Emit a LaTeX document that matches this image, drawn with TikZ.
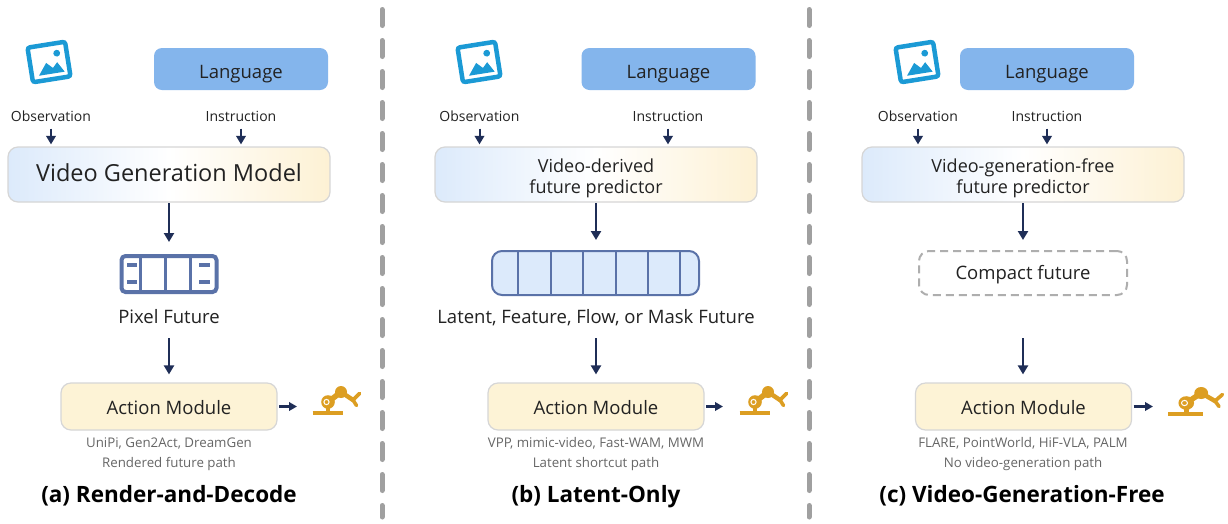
\documentclass[tikz,border=0pt]{standalone}
\usepackage{fontspec}
\setmainfont{Open Sans}
\usetikzlibrary{arrows.meta}
\definecolor{langblue}{HTML}{84B5EC}
\definecolor{iconblue}{HTML}{1B9AD5}
\definecolor{navy}{HTML}{1F2E57}
\definecolor{filmblue}{HTML}{5A72A8}
\definecolor{stripfill}{HTML}{DCEAFB}
\definecolor{gradl}{HTML}{DCEAFB}
\definecolor{gradr}{HTML}{FDF1D4}
\definecolor{actfill}{HTML}{FDF3D6}
\definecolor{boxgray}{HTML}{D6D6D6}
\definecolor{refgray}{HTML}{666666}
\definecolor{sepgray}{HTML}{A0A0A0}
\definecolor{dashgray}{HTML}{AEAEAE}
\definecolor{gold}{HTML}{DC9E22}
\definecolor{txt}{HTML}{222222}
\tikzset{
  lang/.style={fill=langblue, rounded corners=8pt, minimum width=174pt, minimum height=42pt, inner sep=0pt,
    text height=20pt, text depth=2pt, text=txt, font=\fontsize{18.5}{22}\selectfont},
  pred/.style={draw=boxgray, line width=1.2pt, rounded corners=10pt, left color=gradl, right color=gradr,
    middle color=white, minimum width=322pt, minimum height=55pt, inner sep=0pt, text=txt},
  predtxt/.style={align=center, inner sep=0pt, text=txt, font=\fontsize{18}{21}\selectfont},
  actbox/.style={draw=boxgray, line width=1.2pt, fill=actfill, rounded corners=10pt, minimum width=216pt,
    minimum height=47pt, inner sep=0pt, text height=17pt, text depth=2pt, text=txt, font=\fontsize{18.5}{22}\selectfont},
  lbl/.style={anchor=base, inner sep=0pt, text height=10pt, text depth=3pt, text=txt, font=\fontsize{14}{16}\selectfont},
  futlbl/.style={anchor=base, inner sep=0pt, text height=13pt, text depth=4pt, text=txt, font=\fontsize{18.5}{22}\selectfont},
  refs/.style={anchor=base, inner sep=0pt, text=refgray, font=\fontsize{13.3}{15}\selectfont},
  ttl/.style={anchor=base, inner sep=0pt, text=black, font=\fontsize{22.5}{26}\selectfont\bfseries},
  arr/.style={draw=navy, line width=2.3pt, -{Triangle[length=9pt,width=10pt]}},
  arrobs/.style={draw=navy, line width=2pt, -{Triangle[length=8.5pt,width=9.5pt]}},
  arrs/.style={draw=navy, line width=2.3pt, -{Triangle[length=8pt,width=8.5pt]}},
  sepline/.style={draw=sepgray, line width=5pt, line cap=round, dash pattern=on 16pt off 15pt},
  imgicon/.pic={
    \begin{scope}[rotate=9]
      \draw[iconblue, line width=4.5pt, rounded corners=2.5pt] (-19,-17.5) rectangle (19,17.5);
      \fill[iconblue] (-12,12) -- (-3,0.5) -- (3,6.5) -- (8,1.5) -- (14,12) -- cycle;
      \fill[iconblue] (9,-7.5) circle (3.4);
    \end{scope}},
  robot/.pic={
    \draw[gold, line width=4pt] (-0.5,0) -- (29.5,0);
    \draw[gold, line width=4.5pt] (15,-11) -- (15,0);
    \draw[gold, line width=5.5pt, line cap=round] (15,-11) -- (28,-21);
    \draw[gold, line width=4.5pt, line cap=round] (28,-21) -- (40,-13);
    \draw[gold, line width=3.6pt, line cap=round] (40,-13) -- (46.5,-19.5);
    \draw[gold, line width=3.6pt, line cap=round] (40,-13) -- (43.5,-7.5);
    \fill[gold] (15,-11) circle (6.8);
    \fill[gold] (28,-21) circle (6);
    \draw[white, line width=1pt] (13.5,-11) circle (2.6);
  },
}
\begin{document}
\begin{tikzpicture}[x=1pt,y=-1pt]
\useasboundingbox (0,0) rectangle (1228,523);
\fill[white] (0,0) rectangle (1228,523);

% separators
\draw[sepline] (382,9.5) -- (382,517);
\draw[sepline] (809,9.5) -- (809,517);

% ================= (a) =================
\pic at (49,62) {imgicon};
\node[lang] (la) at (241,69) {Language};
\node[lbl] (oa) at (51,121) {Observation};
\node[lbl] (ia) at (241,121) {Instruction};
\node[pred, text height=19pt, text depth=4.6pt, font=\fontsize{23.5}{27}\selectfont] (pa) at (169,174.5) {Video Generation Model};
\draw[arrobs, shorten <=4.5pt, shorten >=2pt] (oa.south) -- (oa.south |- pa.north);
\draw[arrobs, shorten <=4.5pt, shorten >=2pt] (ia.south) -- (ia.south |- pa.north);
% film strip
\node[draw=filmblue, line width=4pt, rounded corners=4pt, fill=white, minimum width=95pt, minimum height=36pt, inner sep=0pt] (xa) at (169,274) {};
\draw[filmblue, line width=3pt] (140.5,256) -- (140.5,292);
\draw[filmblue, line width=3pt] (165,256) -- (165,292);
\draw[filmblue, line width=3pt] (190,256) -- (190,292);
\draw[filmblue, line width=3.5pt] (127,265) -- (137,265);
\draw[filmblue, line width=3.5pt] (127,282) -- (137,282);
\draw[filmblue, line width=3.5pt] (199,265) -- (210,265);
\draw[filmblue, line width=3.5pt] (199,282) -- (210,282);
\draw[arr, shorten <=0.5pt, shorten >=12pt] (pa.south) -- (pa.south |- xa.north);
\node[futlbl] (fa) at (169,323) {Pixel Future};
\node[actbox] (aa) at (169,406.5) {Action Module};
\draw[arr, shorten <=11pt, shorten >=8pt] (fa.south) -- (fa.south |- aa.north);
\coordinate (ra) at (297,406.5);
\draw[arrs, shorten <=1.5pt] (aa.east) -- (ra);
\pic at (313,413) {robot};
\node[refs] (ca) at (169,447.5) {UniPi, Gen2Act, DreamGen};
\node[refs] (da) at (169,467.5) {Rendered future path};
\node[ttl] (ta) at (169,502) {(a) Render-and-Decode};

% ================= (b) =================
\pic at (479,62) {imgicon};
\node[lang] (lb) at (668.5,69) {Language};
\node[lbl] (ob) at (479.5,121) {Observation};
\node[lbl] (ib) at (668,121) {Instruction};
\node[pred] (pb) at (596,174.5) {};
\node[predtxt] (pbt) at (596,178) {Video-derived\\future predictor};
\draw[arrobs, shorten <=4.5pt, shorten >=2pt] (ob.south) -- (ob.south |- pb.north);
\draw[arrobs, shorten <=4.5pt, shorten >=2pt] (ib.south) -- (ib.south |- pb.north);
\node[draw=filmblue, line width=2pt, rounded corners=10pt, fill=stripfill, minimum width=207pt, minimum height=44pt, inner sep=0pt] (xb) at (595.5,273) {};
\foreach \xx in {518,551,583,616,648,680}
  \draw[filmblue, line width=1.5pt] (\xx,252) -- (\xx,294);
\draw[arr, shorten <=0.5pt, shorten >=10pt] (pb.south) -- (pb.south |- xb.north);
\node[futlbl] (fb) at (596,323) {Latent, Feature, Flow, or Mask Future};
\node[actbox] (ab) at (596,406.5) {Action Module};
\draw[arr, shorten <=11pt, shorten >=8pt] (fb.south) -- (fb.south |- ab.north);
\coordinate (rb) at (723,406.5);
\draw[arrs, shorten <=1.5pt] (ab.east) -- (rb);
\pic at (740,413) {robot};
\node[refs] (cb) at (596,447.5) {VPP, mimic-video, Fast-WAM, MWM};
\node[refs] (db) at (596,467.5) {Latent shortcut path};
\node[ttl] (tb) at (596,502) {(b) Latent-Only};

% ================= (c) =================
\pic at (917,62) {imgicon};
\node[lang] (lc) at (1047,69) {Language};
\node[lbl] (oc) at (918,121) {Observation};
\node[lbl] (ic) at (1047,121) {Instruction};
\node[pred] (pc) at (1023,174.5) {};
\node[predtxt] (pct) at (1023,178) {Video-generation-free\\future predictor};
\draw[arrobs, shorten <=4.5pt, shorten >=2pt] (oc.south) -- (oc.south |- pc.north);
\draw[arrobs, shorten <=4.5pt, shorten >=2pt] (ic.south) -- (ic.south |- pc.north);
\node[draw=dashgray, line width=2pt, dash pattern=on 8pt off 5pt, rounded corners=10pt, minimum width=208pt, minimum height=44pt, inner sep=0pt, text height=16pt, text depth=4pt, text=txt, font=\fontsize{18.5}{22}\selectfont] (xc) at (1023,273) {Compact future};
\draw[arr, shorten <=0.5pt, shorten >=10pt] (pc.south) -- (pc.south |- xc.north);
\node[actbox] (ac) at (1023.5,406.5) {Action Module};
\draw[arr, shorten <=42pt, shorten >=8pt] (xc.south) -- (xc.south |- ac.north);
\coordinate (rc) at (1153,406.5);
\draw[arrs, shorten <=1.5pt] (ac.east) -- (rc);
\pic[xscale=1.15] at (1169,414) {robot};
\node[refs] (cc) at (1023,447.5) {FLARE, PointWorld, HiF-VLA, PALM};
\node[refs] (dc) at (1023,467.5) {No video-generation path};
\node[ttl] (tc) at (1022,502) {(c) Video-Generation-Free};
\end{tikzpicture}
\end{document}
